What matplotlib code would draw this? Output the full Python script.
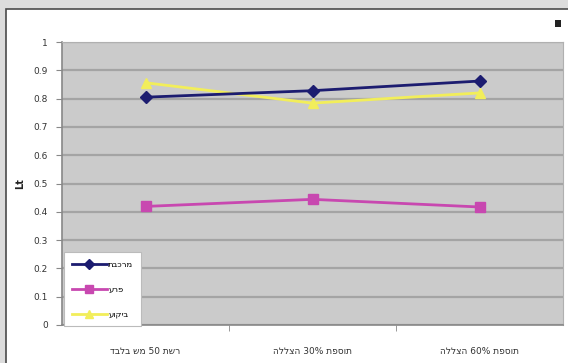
import matplotlib
matplotlib.use("Agg")
import matplotlib.pyplot as plt
from matplotlib.patches import Rectangle
import numpy as np

# treatments along the x axis (logical Hebrew order)
categories = ["רשת 50 מש בלבד", "תוספת 30% הצללה", "תוספת 60% הצללה"]

series_names = ["מרכבת", "פרע", "ביקוע"]
navy_vals = [0.805, 0.828, 0.862]
pink_vals = [0.419, 0.444, 0.417]
yellow_vals = [0.856, 0.784, 0.820]

y_ticks = [0, 0.1, 0.2, 0.3, 0.4, 0.5, 0.6, 0.7, 0.8, 0.9, 1]
y_label = "Lt"


def rtl(text):
    # matplotlib has no bidi support: flip word order and Hebrew letters
    out = []
    for word in text.split(" ")[::-1]:
        if any("\u0590" <= ch <= "\u05ff" for ch in word):
            out.append(word[::-1])
        else:
            out.append(word)
    return " ".join(out)


fig = plt.figure(figsize=(5.68, 3.63), dpi=100)
fig.patch.set_facecolor("#dcdcdc")

# white chart panel with a dark frame, kept behind the axes
fig.patches.append(Rectangle((6 / 568, -0.01), 1.0, 1 - 9 / 363 + 0.01,
                             transform=fig.transFigure, facecolor="white",
                             edgecolor="#4a4a4a", linewidth=1.2, zorder=-5))
fig.patches.append(Rectangle((555 / 568, 1 - 27 / 363), 6 / 568, 7 / 363,
                             transform=fig.transFigure, facecolor="#222222",
                             edgecolor="none", zorder=-4))

ax = fig.add_axes([62 / 568, 38 / 363, 501 / 568, 283 / 363])
ax.set_facecolor("#cbcbcb")

x = np.arange(len(categories))
ax.plot(x, navy_vals, color="#1c1c70", lw=2, marker="D", ms=6,
        label=rtl(series_names[0]), zorder=4)
ax.plot(x, pink_vals, color="#c848b0", lw=2, marker="s", ms=7,
        label=rtl(series_names[1]), zorder=4)
ax.plot(x, yellow_vals, color="#f2ee5a", lw=2, marker="^", ms=7,
        label=rtl(series_names[2]), zorder=3)

ax.set_xlim(-0.5, len(categories) - 0.5)
ax.set_ylim(0, 1)
ax.set_yticks(y_ticks)
ax.set_yticklabels([f"{t:g}" for t in y_ticks], fontsize=6.5, color="#333333")
ax.yaxis.grid(True, color="#a4a4a4", lw=1.6)
ax.set_axisbelow(True)

ax.set_xticks(x)
ax.set_xticklabels([rtl(c) for c in categories], fontsize=6.5, color="#333333")
ax.xaxis.set_minor_locator(matplotlib.ticker.FixedLocator([0.5, 1.5]))
ax.tick_params(axis="x", which="major", length=0, pad=16)
ax.tick_params(axis="x", which="minor", length=4, color="#888888")
ax.tick_params(axis="y", length=4, color="#888888", pad=6)

for side in ["top", "right"]:
    ax.spines[side].set_color("#b0b0b0")
for side in ["left", "bottom"]:
    ax.spines[side].set_color("#888888")
    ax.spines[side].set_linewidth(1.2)

ax.set_ylabel(y_label, fontsize=7, fontweight="bold", color="#222222", labelpad=6)

leg = ax.legend(loc="lower left", bbox_to_anchor=(0.004, -0.004), fontsize=6,
                frameon=True, fancybox=False, borderpad=0.9, labelspacing=1.9,
                handlelength=4.2, handletextpad=0.2, markerscale=0.8,
                borderaxespad=0.0)
leg.get_frame().set_edgecolor("#bbbbbb")
leg.get_frame().set_linewidth(0.8)
leg.get_frame().set_facecolor("white")
leg.get_frame().set_alpha(1)

fig.savefig("out.png", dpi=100, facecolor=fig.get_facecolor())
